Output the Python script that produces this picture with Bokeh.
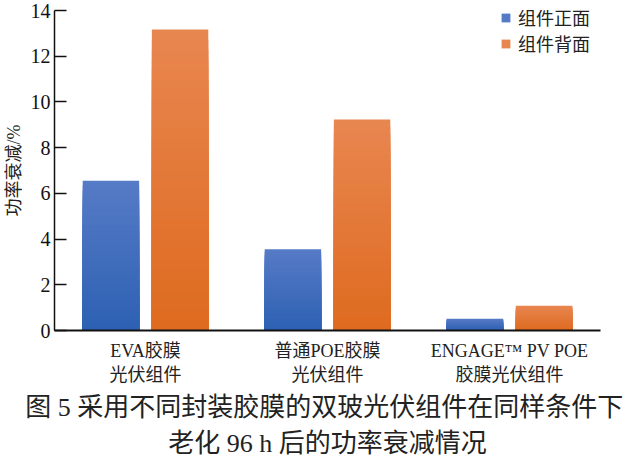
from bokeh.plotting import figure
from bokeh.models import Range1d, FixedTicker, Legend, LegendItem, Title, ColumnDataSource
from bokeh.embed import file_html
from bokeh.resources import INLINE

categories = ["EVA胶膜\n光伏组件", "普通POE胶膜\n光伏组件", "ENGAGE™ PV POE\n胶膜光伏组件"]
front_values = [6.55, 3.56, 0.51]
back_values = [13.17, 9.23, 1.08]
series_names = ["组件正面", "组件背面"]
y_ticks = [0, 2, 4, 6, 8, 10, 12, 14]
caption_lines = ["图 5  采用不同封装胶膜的双玻光伏组件在同样条件下", "老化 96 h 后的功率衰减情况"]

blue_top, blue_bottom = (86, 123, 198), (44, 96, 178)
orange_top, orange_bottom = (232, 134, 80), (222, 106, 30)

SERIF = "'Liberation Serif', 'Noto Sans CJK SC'"

centers = [i + 0.5 for i in range(len(categories))]

p = figure(frame_width=546, frame_height=320, x_range=Range1d(0, len(categories)),
           y_range=Range1d(0, 14), output_backend="svg", toolbar_location=None,
           min_border_left=54, min_border_right=40, min_border_top=10, min_border_bottom=136)
p.outline_line_color = None
p.grid.visible = False

def hexcol(c):
    return "#%02x%02x%02x" % tuple(int(round(v)) for v in c)

N = 30
legend_renderers = []
for vals, ctop, cbot, off in [(front_values, blue_top, blue_bottom, -0.19),
                              (back_values, orange_top, orange_bottom, 0.19)]:
    first = None
    for k in range(N, 0, -1):
        f = k / N
        col = tuple(cbot[i] + (ctop[i] - cbot[i]) * f for i in range(3))
        src = ColumnDataSource(dict(x=[c + off for c in centers], top=[v * f for v in vals]))
        r = p.vbar(x="x", top="top", bottom=0, width=0.31,
                   source=src, fill_color=hexcol(col), line_color=None)
        if first is None:
            first = r
    legend_renderers.append(first)

items = [LegendItem(label=series_names[0], renderers=[legend_renderers[0]]),
         LegendItem(label=series_names[1], renderers=[legend_renderers[1]])]
legend = Legend(items=items, location=(446, 274), border_line_color=None,
                background_fill_alpha=0, label_text_font=SERIF, label_text_font_size="18px",
                label_text_color="#222222", glyph_width=11, glyph_height=11,
                spacing=-3, padding=0, margin=0, label_standoff=7, label_height=25)
p.add_layout(legend)

ya = p.yaxis[0]
ya.ticker = FixedTicker(ticks=y_ticks)
ya.minor_tick_line_color = None
ya.major_tick_in = 12
ya.major_tick_out = 0
ya.axis_line_width = 1.5
ya.major_tick_line_width = 1.5
ya.axis_line_color = "#111111"
ya.major_tick_line_color = "#111111"
ya.major_label_text_font = SERIF
ya.major_label_text_font_size = "20px"
ya.major_label_text_color = "#111111"
ya.major_label_standoff = 4
ya.axis_label = "功率衰减/%"
ya.axis_label_text_font = SERIF
ya.axis_label_text_font_size = "18px"
ya.axis_label_text_font_style = "normal"
ya.axis_label_text_color = "#222222"
ya.axis_label_standoff = 4

xa = p.xaxis[0]
xa.ticker = FixedTicker(ticks=centers)
xa.major_label_overrides = {c: lab for c, lab in zip(centers, categories)}
xa.major_tick_line_color = None
xa.minor_tick_line_color = None
xa.axis_line_width = 2
xa.axis_line_color = "#111111"
xa.major_label_text_font = SERIF
xa.major_label_text_font_size = "18px"
xa.major_label_text_color = "#222222"
xa.major_label_standoff = 4

p.add_layout(Title(text=caption_lines[0], align="center", text_font=SERIF,
                   text_font_size="26px", text_font_style="normal", text_color="#222222",
                   standoff=6), "below")
p.add_layout(Title(text=caption_lines[1], align="center", text_font=SERIF,
                   text_font_size="26px", text_font_style="normal", text_color="#222222",
                   standoff=4), "below")

open("out.html", "w").write(file_html(p, INLINE))
